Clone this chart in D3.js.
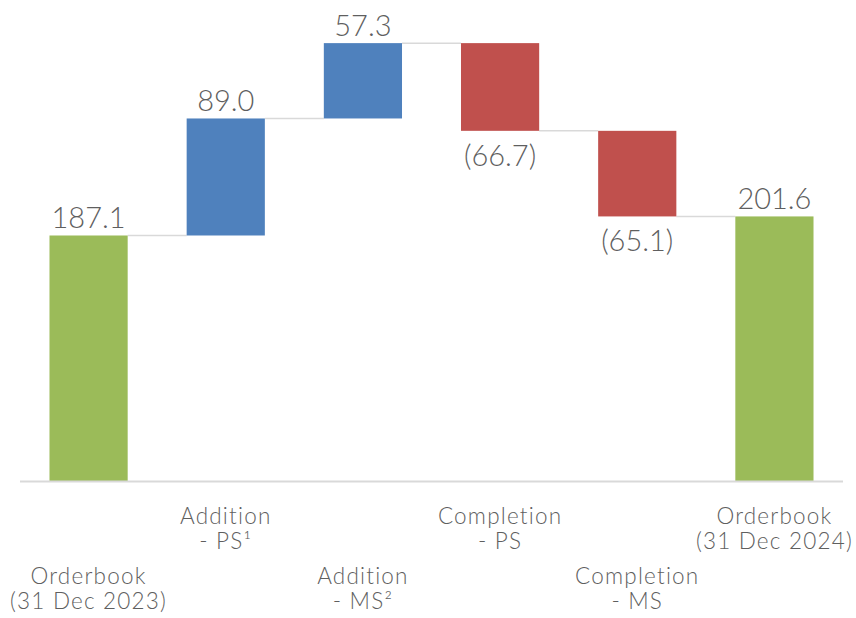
<!DOCTYPE html>
<html>
<head>
<meta charset="utf-8">
<script src="https://cdn.jsdelivr.net/npm/d3@7"></script>
<style>
  html, body { margin: 0; padding: 0; background: #ffffff; }
  svg { display: block; }
</style>
</head>
<body>
<svg id="chart" width="856" height="618"></svg>
<script>
// ---- Data ----
const categories = ["Orderbook 2023", "Addition PS", "Addition MS", "Completion PS", "Completion MS", "Orderbook 2024"];
const categoryLines = [
  ["Orderbook", "(31 Dec 2023)"],
  ["Addition", "- PS\u00B9"],
  ["Addition", "- MS\u00B2"],
  ["Completion", "- PS"],
  ["Completion", "- MS"],
  ["Orderbook", "(31 Dec 2024)"]
];
const values = [187.1, 89.0, 57.3, -66.7, -65.1, 201.6];
const kinds = ["total", "delta", "delta", "delta", "delta", "total"];
const valueLabels = ["187.1", "89.0", "57.3", "(66.7)", "(65.1)", "201.6"];

// ---- Build waterfall segments ----
let running = 0;
const segs = values.map((v, i) => {
  let start, end;
  if (kinds[i] === "total") { start = 0; end = v; running = v; }
  else { start = running; end = running + v; running = end; }
  return { cat: categories[i], v, start, end, kind: kinds[i], label: valueLabels[i], lines: categoryLines[i], i };
});

const colorFor = d => d.kind === "total" ? "#9BBB59" : (d.v >= 0 ? "#4F81BD" : "#C0504D");

const svg = d3.select("#chart");
const x = d3.scaleBand().domain(categories).range([20, 843]).paddingInner(0.43).paddingOuter(0.215);
const y = d3.scaleLinear().domain([0, 350]).range([481.5, 21.3]);

// connectors
for (let i = 0; i < segs.length - 1; i++) {
  const lvl = segs[i].end;
  svg.append("line")
    .attr("x1", x(segs[i].cat) + x.bandwidth())
    .attr("x2", x(segs[i + 1].cat))
    .attr("y1", y(lvl)).attr("y2", y(lvl))
    .attr("stroke", "#D9D9D9").attr("stroke-width", 1.5);
}

// bars
svg.selectAll("rect.bar").data(segs).join("rect")
  .attr("class", "bar")
  .attr("x", d => x(d.cat))
  .attr("width", x.bandwidth())
  .attr("y", d => y(Math.max(d.start, d.end)))
  .attr("height", d => Math.abs(y(d.start) - y(d.end)))
  .attr("fill", colorFor);

// axis line
const axis = d3.axisBottom(x).tickSize(0).tickFormat("");
const gx = svg.append("g").attr("transform", `translate(0,${y(0)})`).call(axis);
gx.select(".domain").attr("stroke", "#D9D9D9").attr("stroke-width", 2).attr("d", "M20,0H843");

// value labels
svg.selectAll("text.val").data(segs).join("text")
  .attr("class", "val")
  .attr("x", d => x(d.cat) + x.bandwidth() / 2)
  .attr("y", d => d.v >= 0 ? y(Math.max(d.start, d.end)) - 7 : y(Math.min(d.start, d.end)) + 35)
  .attr("text-anchor", "middle")
  .attr("font-family", "Lato, 'Open Sans', sans-serif")
  .attr("font-weight", 300)
  .attr("font-size", 29)
  .attr("fill", "#5f5f5f")
  .text(d => d.label);

// category labels (staggered)
const cat = svg.selectAll("text.cat").data(segs).join("text")
  .attr("class", "cat")
  .attr("text-anchor", "middle")
  .attr("font-family", "Lato, 'Open Sans', sans-serif")
  .attr("font-weight", 300)
  .attr("font-size", 22.5)
  .attr("letter-spacing", 1.2)
  .attr("fill", "#5f5f5f")
  .attr("x", d => x(d.cat) + x.bandwidth() / 2)
  .attr("y", d => d.i % 2 === 0 ? 584 : 524);
cat.selectAll("tspan").data(d => d.lines.map(l => ({ l, x: x(d.cat) + x.bandwidth() / 2 }))).join("tspan")
  .attr("x", t => t.x)
  .attr("dy", (t, j) => j === 0 ? 0 : 25)
  .text(t => t.l);
</script>
</body>
</html>
